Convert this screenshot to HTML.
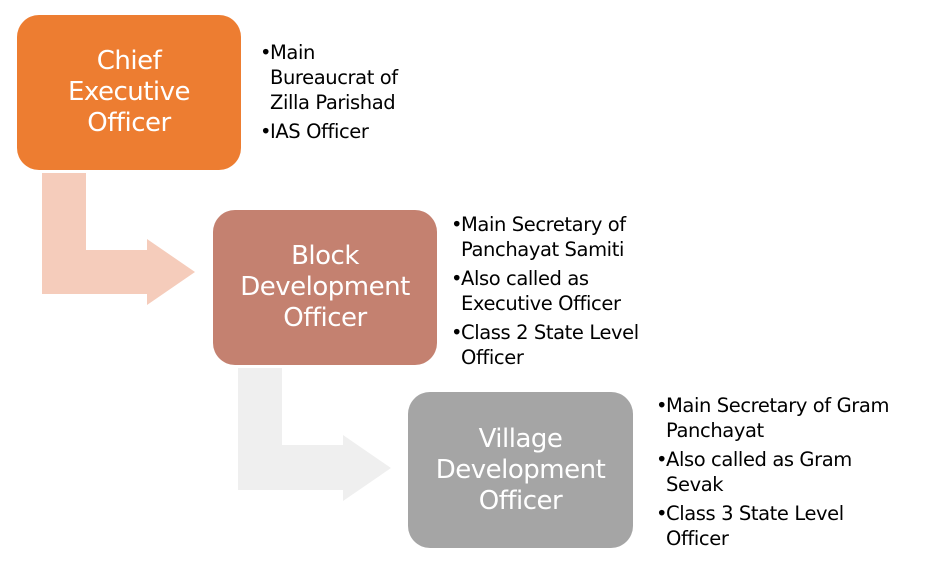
<!DOCTYPE html>
<html><head><style>
body{margin:0;width:941px;height:582px;background:#fff;position:relative;overflow:hidden;font-family:"DejaVu Sans","Liberation Sans",sans-serif;}
.box{position:absolute;border-radius:22px;color:#fff;display:flex;align-items:center;justify-content:center;text-align:center;font-size:26px;line-height:31px;letter-spacing:-0.5px}
.t{position:absolute;font-size:19.5px;line-height:25px;color:#000;letter-spacing:-0.4px}
.t div{position:relative;padding-left:10px}
.t div:before{content:"•";position:absolute;left:0}
.t div.g{margin-top:4px}
</style></head><body>
<svg width="941" height="582" style="position:absolute;left:0;top:0">
<polygon points="42,173 86,173 86,250 147,250 147,239 195,272 147,305 147,294 42,294" fill="#F5CCBB"/>
<polygon points="238,368 282,368 282,445 343,445 343,435 391,468 343,501 343,490 238,490" fill="#EFEFEF"/>
</svg>
<div class="box" style="left:17px;top:15px;width:224px;height:155px;background:#ED7D31">Chief<br>Executive<br>Officer</div>
<div class="box" style="left:213px;top:210px;width:224px;height:155px;background:#C48170">Block<br>Development<br>Officer</div>
<div class="box" style="left:408px;top:392px;width:225px;height:156px;background:#A5A5A5">Village<br>Development<br>Officer</div>
<div class="t" style="left:260px;top:40px;width:155px">
<div>Main Bureaucrat of Zilla Parishad</div>
<div class="g">IAS Officer</div>
</div>
<div class="t" style="left:451px;top:212px;width:215px">
<div>Main Secretary of Panchayat Samiti</div>
<div class="g">Also called as Executive Officer</div>
<div class="g">Class 2 State Level Officer</div>
</div>
<div class="t" style="left:656px;top:393px;width:240px">
<div>Main Secretary of Gram Panchayat</div>
<div class="g">Also called as Gram Sevak</div>
<div class="g">Class 3 State Level Officer</div>
</div>
</body></html>
